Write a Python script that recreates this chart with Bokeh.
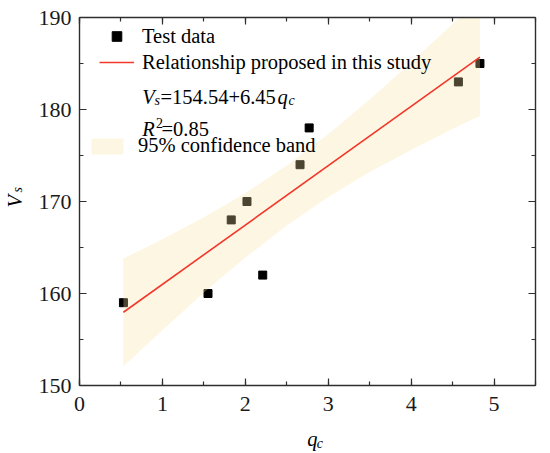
import math
from bokeh.plotting import figure
from bokeh.layouts import row, column
from bokeh.models import (Range1d, LinearAxis, SingleIntervalTicker, Label, Legend,
                          LegendItem, CustomJSTickFormatter)
from bokeh.embed import file_html
from bokeh.resources import INLINE

# ---- data ----
qc = [0.53, 1.55, 1.83, 2.02, 2.21, 2.66, 2.77, 4.57, 4.83]
vs = [159, 160, 168, 170, 162, 174, 178, 183, 185]

fit_x = [0.53, 4.83]
fit_y = [157.96, 185.69]

band_x = [0.53, 1.0, 1.5, 2.0, 2.5, 3.0, 3.5, 4.0, 4.5, 4.83]
band_upper = [163.8, 165.9, 168.3, 170.9, 173.9, 177.3, 181.1, 185.1, 189.3, 192.1]
band_lower = [152.1, 156.0, 160.1, 163.9, 167.4, 170.5, 173.2, 175.6, 177.9, 179.3]

FONT = "Liberation Serif"
AX = "#2e2e2e"
TXT = "20.5px"
SUB = "14px"

# ---- main plot ----
p = figure(frame_width=456, frame_height=368,
           min_border_left=45, min_border_right=15, min_border_top=17, min_border_bottom=40,
           x_range=Range1d(0, 5.5), y_range=Range1d(150, 190),
           output_backend="svg", toolbar_location=None,
           x_axis_location=None, y_axis_location=None)
p.xgrid.visible = False
p.ygrid.visible = False
p.outline_line_color = None


def style_axis(ax, interval, show_labels, standoff):
    ax.ticker = SingleIntervalTicker(interval=interval, num_minor_ticks=2)
    ax.axis_line_color = AX
    ax.axis_line_width = 1.4
    ax.major_tick_line_color = AX
    ax.minor_tick_line_color = AX
    ax.major_tick_line_width = 1.2
    ax.minor_tick_line_width = 1.2
    ax.major_tick_in = 7
    ax.major_tick_out = 0
    ax.minor_tick_in = 4
    ax.minor_tick_out = 0
    ax.major_label_text_font = FONT
    ax.major_label_text_font_size = "22px"
    ax.major_label_text_color = "#1a1a1a"
    ax.major_label_standoff = standoff
    if not show_labels:
        ax.formatter = CustomJSTickFormatter(code="return ''")
        ax.major_label_standoff = 0


xb = LinearAxis(); style_axis(xb, 1, True, 11); p.add_layout(xb, "below")
yl = LinearAxis(); style_axis(yl, 10, True, 8); p.add_layout(yl, "left")
xt = LinearAxis(); style_axis(xt, 1, False, 0); p.add_layout(xt, "above")
yr = LinearAxis(); style_axis(yr, 10, False, 0); p.add_layout(yr, "right")

pts = p.scatter(qc, vs, marker="square", size=8, fill_color="black", line_color="black")
band = p.varea(x=band_x, y1=band_lower, y2=band_upper, fill_color="#F7E0A3", fill_alpha=0.3)
fit = p.line(fit_x, fit_y, line_color="#F2382B", line_width=1.6)

leg1 = Legend(items=[LegendItem(label="Test data", renderers=[pts]),
                     LegendItem(label="Relationship proposed in this study", renderers=[fit])],
              location=(20, 311), orientation="vertical")
leg2 = Legend(items=[LegendItem(label="95% confidence band", renderers=[band])],
              location=(8, 228), orientation="vertical")
for lg, gw, gh, so in ((leg1, 35, 24, 8), (leg2, 40, 20, 11)):
    lg.glyph_width = gw
    lg.glyph_height = gh
    lg.label_height = gh
    lg.label_standoff = so
    lg.spacing = 2
    lg.padding = 0
    lg.margin = 0
    lg.label_text_font = FONT
    lg.label_text_font_size = TXT
    lg.label_text_color = "black"
    lg.background_fill_alpha = 0
    lg.border_line_alpha = 0
    p.add_layout(lg)


def lab(fig, text, x, y, size=TXT, style="normal", angle=0.0, units="screen",
        baseline="alphabetic"):
    fig.add_layout(Label(x=x, y=y, x_units=units, y_units=units, text=text,
                         text_font=FONT, text_font_size=size, text_font_style=style,
                         text_color="black", text_align="left", text_baseline=baseline,
                         angle=angle))


# equation and R^2 inside the legend area
lab(p, "V", 62.7, 288.3, style="italic")
lab(p, "s", 75, 285, size=SUB, style="italic")
lab(p, "=154.54+6.45", 81, 288.3)
lab(p, "q", 198, 288.3, style="italic")
lab(p, "c", 209, 285, size=SUB, style="italic")
lab(p, "R", 62.7, 256.7, style="italic")
lab(p, "2", 76.5, 262.5, size=SUB)
lab(p, "=0.85", 82, 256.7)


def blank_fig(w, h):
    f = figure(width=w, height=h, x_range=Range1d(0, w), y_range=Range1d(0, h),
               min_border=0, min_border_left=0, min_border_right=0,
               min_border_top=0, min_border_bottom=0,
               output_backend="svg", toolbar_location=None,
               x_axis_location=None, y_axis_location=None)
    f.xgrid.visible = False
    f.ygrid.visible = False
    f.outline_line_color = None
    return f


# y-axis title: V_s (rotated)
yfig = blank_fig(34, 451)
lab(yfig, "V", 14, 244, style="italic", angle=math.pi / 2, units="data", baseline="middle")
lab(yfig, "s", 16.5, 259, size=SUB, style="italic", angle=math.pi / 2, units="data",
    baseline="middle")

# x-axis title: q_c
xfig = blank_fig(516, 26)
lab(xfig, "q", 257.7, 13, style="italic", units="data")
lab(xfig, "c", 268.5, 8, size=SUB, style="italic", units="data")

layout = row(yfig, column(p, xfig))
open("out.html", "w").write(file_html(layout, INLINE))
